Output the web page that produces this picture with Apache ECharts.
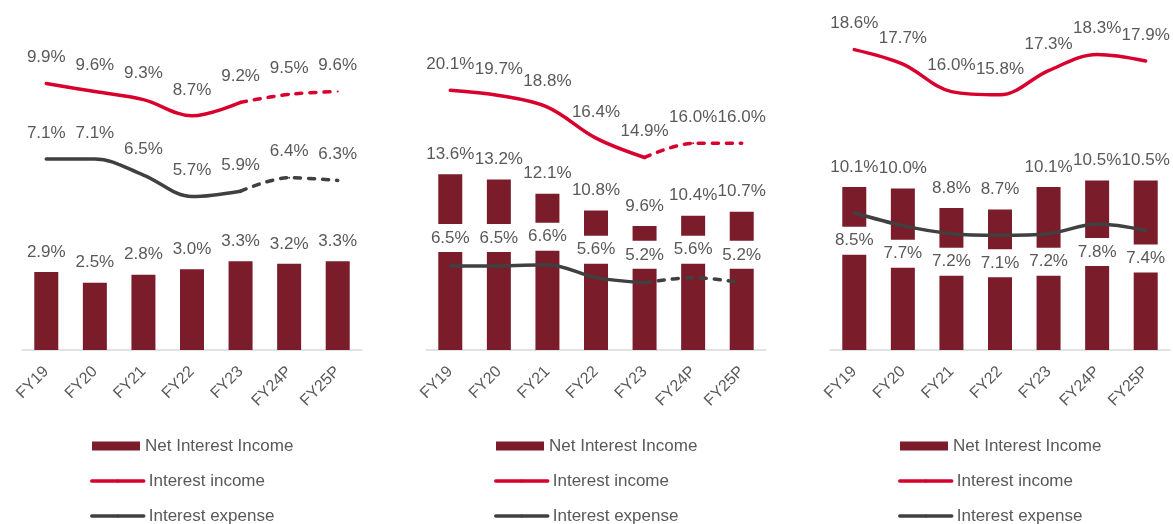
<!DOCTYPE html>
<html>
<head>
<meta charset="utf-8">
<script src="https://cdn.jsdelivr.net/npm/echarts@6/dist/echarts.min.js"></script>
<style>
  html, body { margin: 0; padding: 0; background: #fff; }
  #chart { width: 1173px; height: 524px; }
</style>
</head>
<body>
<div id="chart"></div>
<script>
const categories = ['FY19', 'FY20', 'FY21', 'FY22', 'FY23', 'FY24P', 'FY25P'];

const nii1 = [2.9, 2.5, 2.8, 3.0, 3.3, 3.2, 3.3];
const income1 = [9.9, 9.6, 9.3, 8.7, 9.2, 9.5, 9.6];
const expense1 = [7.1, 7.1, 6.5, 5.7, 5.9, 6.4, 6.3];

const nii2 = [13.6, 13.2, 12.1, 10.8, 9.6, 10.4, 10.7];
const income2 = [20.1, 19.7, 18.8, 16.4, 14.9, 16.0, 16.0];
const expense2 = [6.5, 6.5, 6.6, 5.6, 5.2, 5.6, 5.2];

const nii3 = [10.1, 10.0, 8.8, 8.7, 10.1, 10.5, 10.5];
const income3 = [18.6, 17.7, 16.0, 15.8, 17.3, 18.3, 17.9];
const expense3 = [8.5, 7.7, 7.2, 7.1, 7.2, 7.8, 7.4];

const BAR = '#7a1c2a';
const RED = '#d8002c';
const GREY = '#404040';
const TXT = '#595959';
const FONT = '"Liberation Sans", Arial, sans-serif';

// 每个面板的布局
const panels = [
  { nii: nii1, income: income1, expense: expense1, left: 22, max: 12, dashFrom: 4, expPos: 'top', expDist: 11 },
  { nii: nii2, income: income2, expense: expense2, left: 426, max: 25, dashFrom: 4, expPos: 'top', expDist: 13 },
  { nii: nii3, income: income3, expense: expense3, left: 830, max: 20, dashFrom: null, expPos: 'bottom', expDist: 13 }
];

const pct = p => p.value.toFixed(1) + '%';

// 实线部分 / 虚线部分 (预测年)
function solidPart(arr, from) {
  return from == null ? arr : arr.map((v, i) => (i <= from ? v : '-'));
}
function dashPart(arr, from) {
  return arr.map((v, i) => {
    if (i < from) return '-';
    if (i === from) return { value: v, label: { show: false } };
    return v;
  });
}

const grid = [], xAxis = [], yAxis = [], series = [], legend = [];

panels.forEach((p, i) => {
  grid.push({ left: p.left, width: 340, top: 27, height: 323, outerBoundsMode: 'none' });
  xAxis.push({
    type: 'category', gridIndex: i, data: categories,
    axisTick: { show: false },
    axisLine: { lineStyle: { color: '#d9d9d9', width: 1.5 } },
    axisLabel: { rotate: 45, interval: 0, margin: 19, fontSize: 16, color: TXT, fontFamily: FONT }
  });
  yAxis.push({ type: 'value', gridIndex: i, min: 0, max: p.max, show: false, splitLine: { show: false } });

  const lineLabel = (pos, dist, boxed) => ({
    show: true, position: pos, distance: dist, formatter: pct,
    color: TXT, fontSize: 17, fontFamily: FONT, lineHeight: 20,
    backgroundColor: boxed ? '#fff' : 'transparent', padding: boxed ? [4, 5] : 0
  });

  series.push({
    type: 'bar', name: 'Net Interest Income', xAxisIndex: i, yAxisIndex: i,
    data: p.nii, barWidth: 24, itemStyle: { color: BAR },
    label: { show: true, position: 'top', distance: 10, formatter: pct, color: TXT, fontSize: 17, fontFamily: FONT, lineHeight: 20 }
  });

  const lines = [
    { name: 'Interest income', data: p.income, color: RED, label: lineLabel('top', 15, false) },
    { name: 'Interest expense', data: p.expense, color: GREY, label: lineLabel(p.expPos, p.expDist, true) }
  ];
  lines.forEach(l => {
    series.push({
      type: 'line', name: l.name, xAxisIndex: i, yAxisIndex: i, z: 3,
      data: solidPart(l.data, p.dashFrom), smooth: 0.35,
      symbol: 'circle', symbolSize: 2, itemStyle: { color: l.color },
      lineStyle: { color: l.color, width: 3.5, cap: 'round' },
      label: l.label
    });
    if (p.dashFrom != null) {
      series.push({
        type: 'line', name: l.name, xAxisIndex: i, yAxisIndex: i, z: 3,
        data: dashPart(l.data, p.dashFrom), smooth: 0.35,
        symbol: 'circle', symbolSize: 2, itemStyle: { color: l.color },
        lineStyle: { color: l.color, width: 3.5, cap: 'round', type: [6, 8] },
        label: l.label
      });
    }
  });

  const textStyle = { color: TXT, fontSize: 17, fontFamily: FONT, lineHeight: 20 };
  legend.push({
    orient: 'vertical', left: p.left + 70, top: 436, padding: 0, height: 30,
    data: [{ name: 'Net Interest Income', icon: 'rect' }],
    itemWidth: 48, itemHeight: 9, selectedMode: false, textStyle
  });
  legend.push({
    orient: 'vertical', left: p.left + 68, top: 471, padding: 0, itemGap: 15, height: 70,
    data: ['Interest income', 'Interest expense'],
    itemWidth: 52, itemHeight: 4, selectedMode: false, textStyle,
    lineStyle: { width: 3.5 }, itemStyle: { borderWidth: 0 }
  });
});

const chart = echarts.init(document.getElementById('chart'));
chart.setOption({
  animation: false,
  backgroundColor: '#fff',
  grid, xAxis, yAxis, series, legend
});
</script>
</body>
</html>
